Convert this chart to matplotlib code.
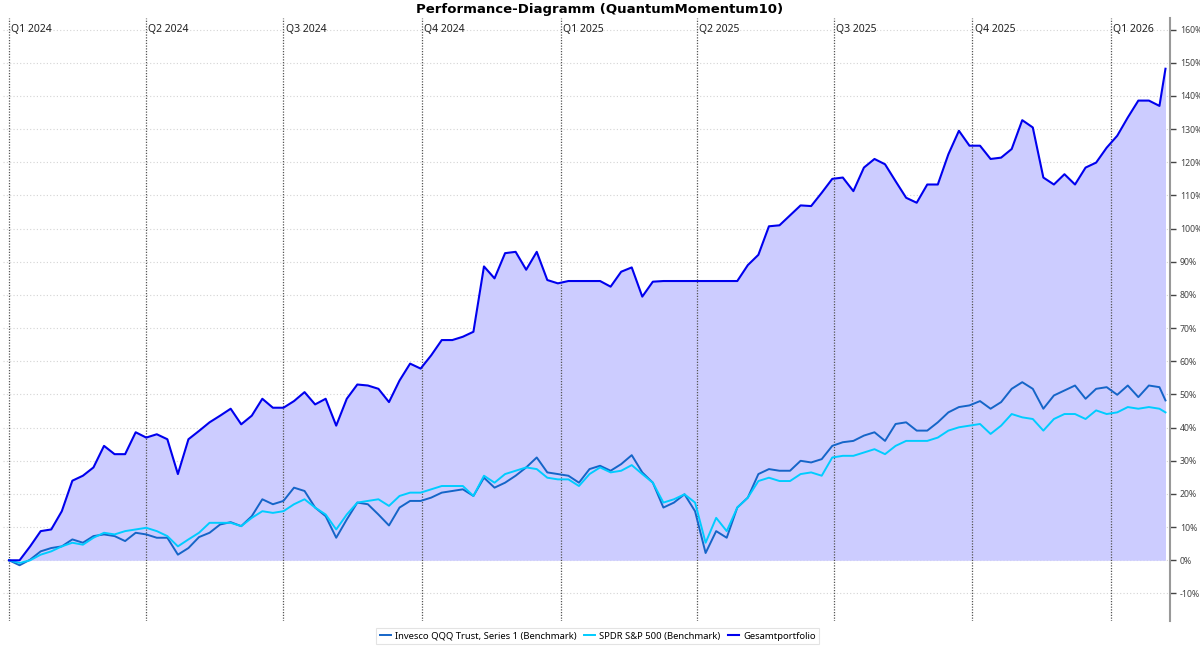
import matplotlib
matplotlib.use('Agg')
import matplotlib.pyplot as plt
import pandas as pd

plt.rcParams['font.family'] = ['Noto Sans', 'DejaVu Sans']

# weekly samples (cumulative performance in %)
dates = list(pd.date_range('2024-01-01', periods=110, freq='7D')) + [pd.Timestamp('2026-02-06')]

gesamt = [0, 0, 4.2, 8.8, 9.3, 14.8, 24, 25.5, 28, 34.5,
          32, 32, 38.6, 37, 38, 36.5, 26, 36.5, 39, 41.6,
          43.6, 45.7, 41, 43.6, 48.7, 46, 46, 48, 50.7, 47,
          48.7, 40.6, 48.7, 53, 52.7, 51.7, 47.7, 54.2, 59.3, 57.8,
          61.8, 66.4, 66.4, 67.4, 68.9, 88.6, 85, 92.6, 93, 87.6,
          93, 84.5, 83.5, 84.2, 84.2, 84.2, 84.2, 82.5, 87, 88.3,
          79.5, 84, 84.2, 84.2, 84.2, 84.2, 84.2, 84.2, 84.2, 84.2,
          89, 92.1, 100.7, 101, 104, 107, 106.8, 110.8, 115, 115.4,
          111.3, 118.4, 121, 119.4, 114.3, 109.3, 107.8, 113.3, 113.3, 122.4,
          129.5, 125, 125, 121, 121.4, 124, 132.7, 130.5, 115.4, 113.3,
          116.4, 113.3, 118.4, 119.9, 124.4, 128, 133.5, 138.6, 138.6, 137,
          148.2]

qqq = [0, -1.5, 0.2, 2.7, 3.7, 4.2, 6.3, 5.3, 7.3, 7.8,
       7.3, 5.8, 8.3, 7.8, 6.8, 6.8, 1.7, 3.7, 7, 8.3,
       10.8, 11.5, 10.3, 13.3, 18.4, 16.9, 17.9, 21.9, 20.9, 15.9,
       13.3, 6.8, 12.3, 17.4, 16.9, 13.8, 10.5, 15.9, 17.9, 17.9,
       18.9, 20.4, 20.9, 21.4, 19.4, 24.9, 21.9, 23.4, 25.5, 28,
       31, 26.5, 26, 25.5, 23.4, 27.5, 28.5, 27, 29, 31.7,
       26.5, 23.4, 15.9, 17.4, 19.9, 14.8, 2.2, 8.8, 6.8, 15.9,
       18.9, 26, 27.5, 27, 27, 30, 29.5, 30.5, 34.5, 35.6,
       36, 37.6, 38.6, 36, 41.1, 41.6, 39.1, 39.1, 41.6, 44.6,
       46.2, 46.7, 48, 45.7, 47.7, 51.7, 53.7, 51.7, 45.7, 49.7,
       51.2, 52.7, 48.7, 51.7, 52.2, 49.9, 52.7, 49.2, 52.7, 52.2,
       48.2]

spy = [0, -0.8, 0, 1.7, 2.7, 4.2, 5.3, 4.7, 6.8, 8.3,
       7.8, 8.8, 9.3, 9.8, 8.8, 7.3, 4.2, 6.3, 8.3, 11.3,
       11.3, 11.3, 10.3, 12.8, 14.8, 14.3, 14.8, 16.9, 18.4, 15.9,
       13.8, 9.3, 13.8, 17.4, 17.9, 18.4, 16.4, 19.4, 20.4, 20.4,
       21.4, 22.4, 22.4, 22.4, 19.4, 25.5, 23.4, 26, 27, 28,
       27.5, 24.9, 24.4, 24.4, 22.4, 26, 28, 26.5, 27, 28.7,
       26, 23.4, 17.4, 18.4, 19.9, 17.4, 5.3, 12.8, 8.8, 15.9,
       18.9, 23.9, 24.9, 23.9, 23.9, 26, 26.5, 25.5, 31, 31.5,
       31.5, 32.5, 33.5, 32, 34.5, 36, 36, 36, 37, 39.1,
       40.1, 40.6, 41.1, 38.1, 40.6, 44.1, 43.1, 42.6, 39.1, 42.6,
       44.1, 44.1, 42.6, 45.2, 44.1, 44.6, 46.2, 45.7, 46.2, 45.7,
       44.6]

quarters = pd.date_range('2024-01-01', '2026-01-01', freq='QS')
quarter_labels = ['Q%d %d' % ((d.month - 1) // 3 + 1, d.year) for d in quarters]
yticks = list(range(-10, 170, 10))

fig = plt.figure(figsize=(12, 6.49), dpi=100)
ax = fig.add_axes([3 / 1200, 28 / 649, 1167 / 1200, 603 / 649])

ax.fill_between(dates, 0, gesamt, color='#ccccff', lw=0, zorder=1)
ax.plot(dates, qqq, color='#1565c8', lw=1.4, label='Invesco QQQ Trust, Series 1 (Benchmark)', zorder=3)
ax.plot(dates, spy, color='#00ccff', lw=1.4, label='SPDR S&P 500 (Benchmark)', zorder=3)
ax.plot(dates, gesamt, color='#0000ee', lw=1.5, label='Gesamtportfolio', zorder=4)

ax.set_xlim(pd.Timestamp('2023-12-28'), pd.Timestamp('2026-02-09'))
ax.set_ylim(-18.3, 163.5)

# quarter markers with labels at the top
for d, lab in zip(quarters, quarter_labels):
    ax.axvline(d, color='#555555', lw=0.9, ls=(0, (1, 1.2)), zorder=2)
    ax.text(d + pd.Timedelta(days=1.5), 160, lab, fontsize=7.5, color='#222222',
            va='center', ha='left', zorder=5)

ax.set_yticks(yticks)
ax.set_yticklabels(['%d%%' % t for t in yticks])
ax.yaxis.tick_right()
ax.tick_params(axis='y', labelsize=6.3, colors='#444444', length=4, width=1, pad=3)
ax.tick_params(axis='x', bottom=False, labelbottom=False)
ax.grid(axis='y', color='#d4d4d4', ls=(0, (1, 2)), lw=0.8)
ax.set_axisbelow(True)

for side in ['top', 'left', 'bottom']:
    ax.spines[side].set_visible(False)
ax.spines['right'].set_color('#999999')
ax.spines['right'].set_linewidth(1.5)

fig.suptitle('Performance-Diagramm (QuantumMomentum10)', fontsize=9.5,
             fontweight='bold', family='DejaVu Sans', y=0.995, va='top')

leg = fig.legend(loc='center', bbox_to_anchor=(0.498, 0.02), ncol=3, fontsize=6.8,
                 frameon=True, fancybox=False, handlelength=1.2, handletextpad=0.4,
                 columnspacing=0.8, borderpad=0.4)
leg.get_frame().set_edgecolor('#dddddd')
leg.get_frame().set_linewidth(0.8)

fig.savefig('out.png', dpi=100)
